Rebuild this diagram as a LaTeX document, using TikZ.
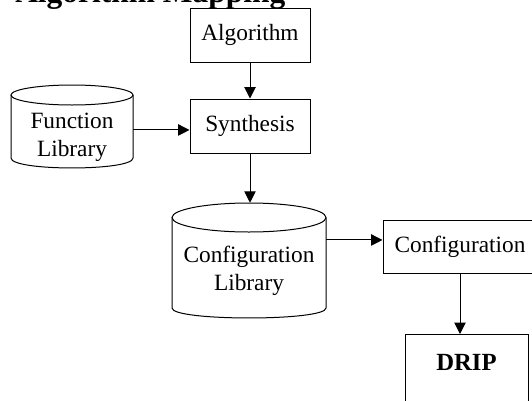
\documentclass[tikz,border=0pt]{standalone}
\usepackage{fontspec}
\setmainfont{Liberation Serif}
\usetikzlibrary{arrows.meta,calc}
\tikzset{
  flowbox/.style={draw, line width=0.75pt, inner sep=0pt, align=center,
    font=\fontsize{17.5}{20.6}\selectfont},
  plain/.style={inner sep=0pt, align=center, font=\fontsize{17.5}{20.6}\selectfont},
  area/.style={inner sep=0pt, draw=none},
  outline/.style={line width=0.75pt},
  arr/.style={line width=0.75pt, -{Triangle[length=8.5pt,width=8.5pt]}},
}
\begin{document}
\begin{tikzpicture}[x=0.75pt, y=-0.75pt]
  \useasboundingbox (0,0) rectangle (532,400);

  % heading
  \node[anchor=base west, inner sep=0pt,
        font=\fontsize{23.6}{28}\selectfont\bfseries] (title) at (15,2) {Algorithm Mapping};

  % process boxes
  \node[flowbox, minimum width=90pt, minimum height=40.5pt] (alg) at (250,35) {Algorithm};
  \node[flowbox, minimum width=90pt, minimum height=40.5pt] (syn) at (250,126) {Synthesis};
  \node[flowbox, minimum width=115.5pt, minimum height=39.75pt] (cfg) at (460,246.5) {Configuration};
  \node[flowbox, anchor=north, minimum width=92.25pt, minimum height=75pt] (drip) at (466.5,334) {};
  \node[plain, font=\fontsize{18.5}{22}\selectfont\bfseries] (driptext) at (466.5,362) {DRIP};

  % function library store
  \node[area, minimum width=91.5pt, minimum height=62.25pt] (fl) at (72,126.5) {};
  \draw[outline] (72,95) ellipse [x radius=45.75pt, y radius=7.5pt];
  \draw[outline] (11,95) -- (11,158) .. controls (11,171.3) and (133,171.3) .. (133,158) -- (133,95);
  \node[plain] (fltext) at (72,137.5) {Function\\Library};

  % configuration library store
  \node[area, minimum width=115.5pt, minimum height=86.25pt] (cl) at (249,260.5) {};
  \draw[outline] (249,217.5) ellipse [x radius=57.75pt, y radius=10.875pt];
  \draw[outline] (172,217.5) -- (172,308) .. controls (172,321.3) and (326,321.3) .. (326,308) -- (326,217.5);
  \node[plain] (cltext) at (249,271) {Configuration\\Library};

  % connectors
  \draw[arr] (alg.south) -- (syn.north);
  \draw[arr] ([yshift=-2.6pt]fl.east) -- ([yshift=-2.6pt]fl.east -| syn.west);
  \draw[arr] (syn.south) -- (syn.south |- cl.north);
  \draw[arr] ([yshift=15.4pt]cl.east) -- ([yshift=15.4pt]cl.east -| cfg.west);
  \draw[arr] (cfg.south) -- (cfg.south |- drip.north);
\end{tikzpicture}
\end{document}
